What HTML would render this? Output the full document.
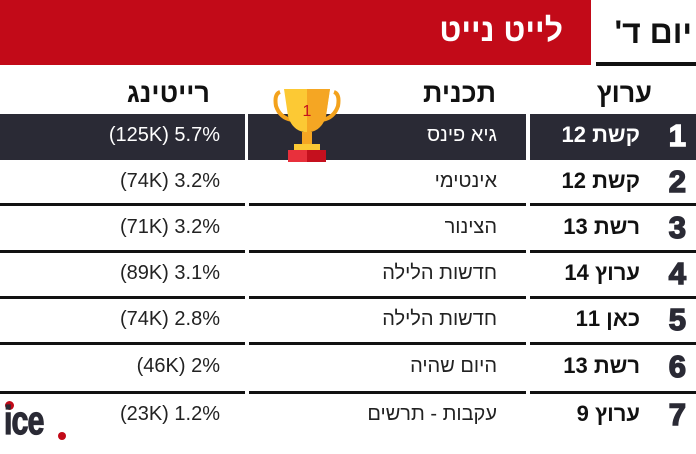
<!DOCTYPE html>
<html><head><meta charset="utf-8"><style>
body{margin:0;width:696px;height:454px;background:#fff;position:relative;overflow:hidden;font-family:"Liberation Sans","Noto Sans CJK SC",sans-serif;}
.a{position:absolute}
.t{position:absolute;white-space:nowrap;direction:rtl}
.seg{position:absolute;height:3px;background:#111}
.r{right:476px;font-size:20px;color:#222;direction:ltr;text-align:right}
.p{right:199px;font-size:20px;color:#222}
.c{right:56px;font-size:22px;font-weight:bold;color:#111}
.n{right:10px;font-size:31px;font-weight:bold;color:#2a2a35;-webkit-text-stroke:1.5px currentColor}
</style></head><body>
<div class="a" style="left:0;top:0;width:591px;height:65px;background:#c20a18"></div>
<div class="t" style="right:133px;top:12px;font-size:32px;font-weight:bold;color:#fff">לייט נייט</div>
<div class="t" style="right:4px;top:14px;font-size:32px;font-weight:bold;color:#111">יום ד'</div>
<div class="a" style="left:596px;top:62px;width:100px;height:4px;background:#111"></div>

<div class="t" style="right:486px;top:78px;font-size:27px;font-weight:bold;color:#111">רייטינג</div>
<div class="t" style="right:200px;top:78px;font-size:27px;font-weight:bold;color:#111">תכנית</div>
<div class="t" style="right:44px;top:78px;font-size:27px;font-weight:bold;color:#111">ערוץ</div>

<div class="a" style="left:0;top:114px;width:245px;height:46px;background:#2a2a35"></div>
<div class="a" style="left:248px;top:114px;width:278px;height:46px;background:#2a2a35"></div>
<div class="a" style="left:530px;top:114px;width:166px;height:46px;background:#2a2a35"></div>

<svg class="a" style="left:272px;top:86px" width="70" height="78" viewBox="0 0 70 78">
<path d="M8 6 Q2 8 4 20 Q8 32 20 34" stroke="#f3a21c" stroke-width="4" fill="none"/>
<path d="M62 6 Q68 8 66 20 Q62 32 50 34" stroke="#f3a21c" stroke-width="4" fill="none"/>
<path d="M12 3 H58 L54 30 Q50 44 38 46 H32 Q20 44 16 30 Z" fill="#fcc934"/>
<path d="M35 3 H58 L54 30 Q50 44 38 46 H35 Z" fill="#f5a623"/>
<rect x="30" y="46" width="10" height="12" fill="#f5a623"/>
<rect x="22" y="58" width="26" height="6" fill="#fcc934"/>
<rect x="16" y="64" width="38" height="12" fill="#e8303c"/>
<rect x="35" y="64" width="19" height="12" fill="#c5101e"/>
<text x="35" y="30" font-size="16" fill="#c5101e" text-anchor="middle" font-family="Liberation Sans">1</text>
</svg>

<div class="t r" style="top:124px;color:#fff">(125K) 5.7%</div>
<div class="t p" style="top:124px;color:#fff">גיא פינס</div>
<div class="t c" style="top:122px;color:#fff">קשת 12</div>
<div class="t n" style="top:118px;color:#fff">1</div>

<div class="t r" style="top:170px">(74K) 3.2%</div>
<div class="t p" style="top:170px">אינטימי</div>
<div class="t c" style="top:168px">קשת 12</div>
<div class="t n" style="top:164px">2</div>
<div class="seg" style="left:0;top:203px;width:245px"></div><div class="seg" style="left:249px;top:203px;width:277px"></div><div class="seg" style="left:530px;top:203px;width:166px"></div>

<div class="t r" style="top:216px">(71K) 3.2%</div>
<div class="t p" style="top:216px">הצינור</div>
<div class="t c" style="top:214px">רשת 13</div>
<div class="t n" style="top:210px">3</div>
<div class="seg" style="left:0;top:250px;width:245px"></div><div class="seg" style="left:249px;top:250px;width:277px"></div><div class="seg" style="left:530px;top:250px;width:166px"></div>

<div class="t r" style="top:262px">(89K) 3.1%</div>
<div class="t p" style="top:262px">חדשות הלילה</div>
<div class="t c" style="top:260px">ערוץ 14</div>
<div class="t n" style="top:256px">4</div>
<div class="seg" style="left:0;top:296px;width:245px"></div><div class="seg" style="left:249px;top:296px;width:277px"></div><div class="seg" style="left:530px;top:296px;width:166px"></div>

<div class="t r" style="top:308px">(74K) 2.8%</div>
<div class="t p" style="top:308px">חדשות הלילה</div>
<div class="t c" style="top:306px">כאן 11</div>
<div class="t n" style="top:302px">5</div>
<div class="seg" style="left:0;top:342px;width:245px"></div><div class="seg" style="left:249px;top:342px;width:277px"></div><div class="seg" style="left:530px;top:342px;width:166px"></div>

<div class="t r" style="top:355px">(46K) 2%</div>
<div class="t p" style="top:355px">היום שהיה</div>
<div class="t c" style="top:353px">רשת 13</div>
<div class="t n" style="top:349px">6</div>
<div class="seg" style="left:0;top:391px;width:245px"></div><div class="seg" style="left:249px;top:391px;width:277px"></div><div class="seg" style="left:530px;top:391px;width:166px"></div>

<div class="t r" style="top:403px">(23K) 1.2%</div>
<div class="t p" style="top:403px">עקבות - תרשים</div>
<div class="t c" style="top:401px">ערוץ 9</div>
<div class="t n" style="top:397px">7</div>

<div class="a" style="left:5px;top:401px;width:9px;height:9px;border-radius:50%;background:#c20a18"></div>
<div class="a" style="left:4px;top:400px;font-size:32px;line-height:32px;font-weight:bold;color:#2a2a35;letter-spacing:-1px;-webkit-text-stroke:1px #2a2a35;transform:scale(0.95,1.25);transform-origin:left top">ice</div>
<div class="a" style="left:58px;top:432px;width:8px;height:8px;border-radius:50%;background:#c20a18"></div>
</body></html>
